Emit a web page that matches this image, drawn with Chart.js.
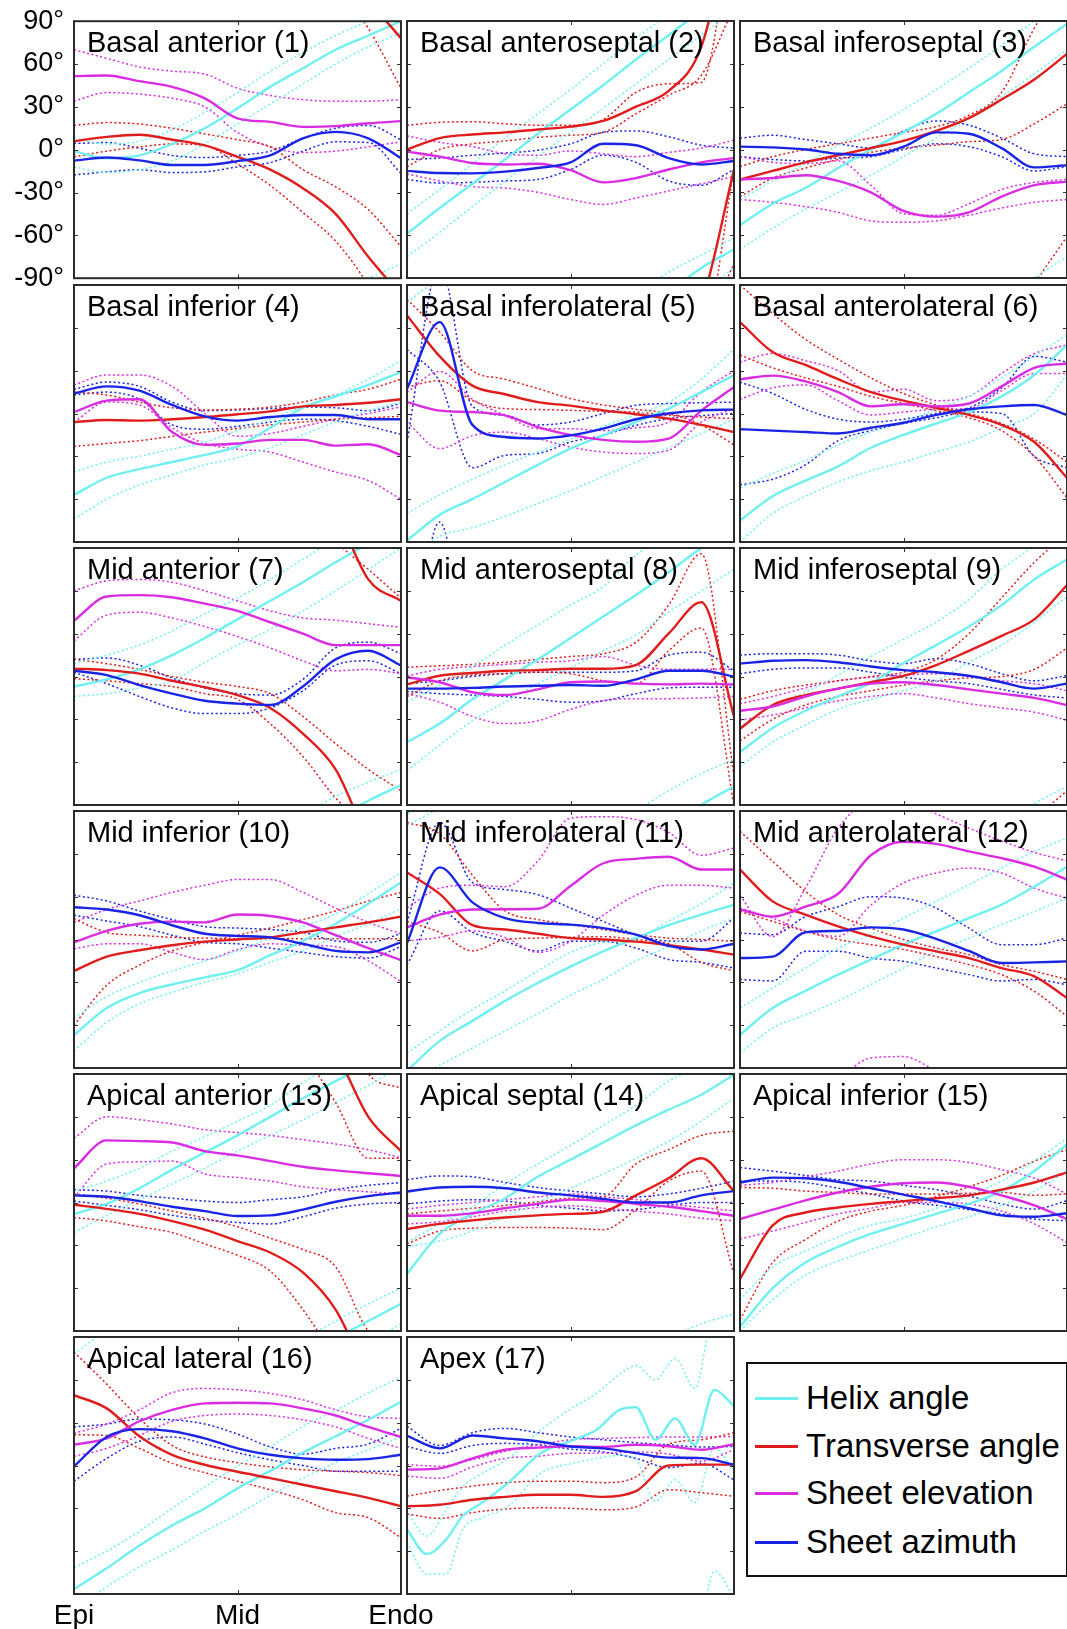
<!DOCTYPE html>
<html>
<head>
<meta charset="utf-8">
<title>Fibre and sheet angles by segment</title>
<script src="https://cdn.jsdelivr.net/npm/chart.js@4.4.1/dist/chart.umd.min.js"></script>
<style>
  html, body { margin: 0; padding: 0; background: #fff; overflow: hidden; }
  #page { position: relative; width: 1067px; height: 1629px; overflow: hidden; font-family: 'Liberation Sans', Arial, sans-serif; }
  #page canvas { position: absolute; }
  #legend { position: absolute; left: 746px; top: 1362px; width: 322px; height: 215px; box-sizing: border-box; border: 2px solid #111; background: #fff; }
  #legend .item { position: absolute; left: 0; height: 40px; line-height: 40px; font-size: 33px; color: #000; white-space: nowrap; }
  #legend .swatch { position: absolute; left: 7px; top: 19px; width: 43px; height: 3px; }
  #legend .label { position: absolute; left: 58px; top: 0; }
</style>
</head>
<body>
<div id="page"><div id="legend"></div></div>
<script>
// wall depth, epicardium (0) to endocardium (1)
const depth = [0, 0.1, 0.2, 0.3, 0.4, 0.5, 0.6, 0.7, 0.8, 0.9, 1];
// the apex helix curves are jagged, so they are read at more depths
const apexHelixDepth = [0, 0.06, 0.12, 0.17, 0.23, 0.31, 0.41, 0.51, 0.58, 0.65, 0.7, 0.76, 0.82, 0.88, 0.94, 1];
const depthTicks = [0, 0.5, 1];
const depthTickLabels = ['Epi', 'Mid', 'Endo'];
const angleTicks = [-90, -60, -30, 0, 30, 60, 90];

const segmentNames = [
  'Basal anterior (1)', 'Basal anteroseptal (2)', 'Basal inferoseptal (3)',
  'Basal inferior (4)', 'Basal inferolateral (5)', 'Basal anterolateral (6)',
  'Mid anterior (7)', 'Mid anteroseptal (8)', 'Mid inferoseptal (9)',
  'Mid inferior (10)', 'Mid inferolateral (11)', 'Mid anterolateral (12)',
  'Apical anterior (13)', 'Apical septal (14)', 'Apical inferior (15)',
  'Apical lateral (16)', 'Apex (17)'
];
const seriesNames = ['Helix angle', 'Transverse angle', 'Sheet elevation', 'Sheet azimuth'];

// one row per segment, degrees (values past ±90 wrap round, as angles are axial)
const helix = [
  [-1, -6, -4, 4, 15, 29, 44, 57, 70, 80, 90],
  [-59, -41, -24, -7, 11, 28, 45, 63, 80, 97, 110],
  [-53, -38, -27, -13, 0, 12, 25, 40, 55, 72, 88],
  [-57, -45, -39, -34, -29, -23, -10, 4, 12, 20, 29],
  [-89, -71, -60, -48, -36, -24.6, -15.3, -6, 3.4, 15, 26.7],
  [-75, -58, -47, -37, -24, -15, -7, 1, 12, 27, 48],
  [-7, -2, 5, 15, 27, 40, 53, 66, 80, 93, 104],
  [-46, -33, -16, -2, 12, 27, 42, 57, 73, 90, 103],
  [-53, -36, -24, -14, -4.5, 9.5, 22, 35, 50, 68, 82],
  [-67, -48, -37.5, -31.5, -26.5, -21.5, -11, -1, 11, 25, 40],
  [-92, -71, -57, -43, -30.5, -19, -8.3, 1, 10, 17.4, 24.4],
  [-66.7, -48, -36, -24.6, -14, -3.6, 5.7, 15, 24.4, 37, 51],
  [-8, -1, 10, 23, 35, 47, 60, 73, 85, 97, 109],
  [-50, -22, -8, 3, 18, 30, 42, 54, 65, 75.5, 89.5],
  [-87, -60, -42, -31, -22, -15, -8, -1, 8, 22, 40.7],
  [-86.5, -72, -56, -42, -30, -16, -3.8, 9, 20.5, 32, 44.7],
  [-44.7, -62, -51.7, -35.4, -26, -12, 8.7, 18, 25, 39, 40.8, 18, 33, 14.5, 53, 41.7]
];
const helixHi = [
  [8, 4, 6, 14, 26, 40, 55, 68, 80, 90, 100],
  [-45, -28, -10, 8, 25, 42, 60, 78, 94, 106, 118],
  [-35, -22, -10, 3, 15, 28, 42, 57, 73, 90, 105],
  [-41, -34, -30, -25, -20, -12, -4, 5, 13, 24, 37],
  [-70, -57, -46, -36, -27, -18, -9, -1, 8, 24, 45],
  [-52, -42, -33, -22, -13, -6, 3, 12, 25, 40, 55],
  [9, 15, 22, 32, 44, 55, 68, 82, 96, 106, 115],
  [-18, -6, 7, 22, 36, 50, 63, 85, 100, 112, 122],
  [-35, -20, -11, 1, 14, 26, 38, 54, 75, 91, 103],
  [-55, -40, -30, -22, -15, -8, 1, 9, 18, 32, 47],
  [-79.5, -64, -49, -36, -22, -9, -2, 0.5, 13, 25, 39.5],
  [-48, -34, -20, -6, 3.4, 15, 26.7, 38.4, 50, 61.7, 71],
  [8, 15, 24, 36, 46, 57, 68, 84, 97, 109, 120],
  [-28, -15, -3, 13, 27, 40, 54, 68, 85, 95, 102],
  [-68, -45, -34, -24, -16, -11, -4, 5, 15, 29, 45],
  [-71.5, -60, -46, -30, -15, -0.5, 13, 27.5, 38.5, 51, 62],
  [-32, -49.4, -31, -15, -5.6, 5, 25, 41, 50.5, 64, 70, 60, 75, 54, 106, 88]
];
const helixLo = [
  [-12, -16, -14, -8, 4, 18, 32, 46, 60, 72, 82],
  [-75, -58, -40, -22, -5, 12, 29, 46, 63, 80, 97],
  [-70, -55, -42, -30, -18, -5, 8, 22, 37, 53, 70],
  [-74, -60, -50, -43, -36, -31, -24, -15, -6, 2, 8],
  [-102, -86, -80, -72, -63, -54, -44, -34, -24, -14, -4],
  [-90, -70, -58, -48, -40, -34, -27, -20, -10, 0, 27],
  [-14, -12, -8, -3, 10, 22, 33, 46, 60, 75, 90],
  [-66, -48, -31, -18, -5, 6, 18, 29, 45, 60, 75],
  [-63, -46, -34, -23, -16, -10, -3, 10, 22, 38, 56],
  [-78, -58, -45, -37, -30, -24, -16, -8, 2, 11, 21.5],
  [-100, -88, -76, -64, -52, -39, -28, -15, -5, 6, 15],
  [-79.5, -62, -52.7, -43, -31.6, -20, -8.3, 1, 10.4, 19.7, 29],
  [-21, -9, 2, 13, 24, 36, 47, 58, 70, 82, 95],
  [-31, -27, -20, -10, 0, 10, 20, 31, 43, 57, 73],
  [-90, -68, -51, -41, -33, -25, -17, -10, -2, 8, 22],
  [-102, -85, -71, -59, -46, -34, -21, -9, 2, 11, 20],
  [-54, -76, -76, -44.7, -36.6, -28.5, -5.2, 1.7, 5, 7, 4, -25, -10, -26, 12, -3]
];

const transverse = [
  [6, 9, 10.5, 7, 3, -5, -14, -27, -45, -75, -102],
  [0, 8, 10.5, 12, 14, 16, 20, 30, 41, 72, 166],
  [-21, -15, -9, -4, 1, 6, 13, 22, 35, 49, 67],
  [-6, -4.5, -5, -4, -2.5, -0.5, 1.5, 5, 6, 7.5, 10],
  [68.7, 40, 19.5, 13.5, 8, 5.5, 2.2, -0.5, -3.6, -8, -13],
  [64, 43, 34, 24, 15, 9, 4, -1, -8, -20, -45],
  [5.5, 4.5, 2, -3, -7.5, -13, -22, -40, -65, -112, -127],
  [-5.6, 0.5, 2.5, 4, 4.5, 5.4, 5.4, 8, 30, 52, -28],
  [-36.5, -20, -13, -8.5, -4, 0.5, 8, 18, 28.5, 40, 64],
  [-22, -12, -7.5, -4, -1.5, 0, 1.5, 5, 8.5, 12, 16],
  [47, 32, 10, 7, 4, 1, 0, -1.5, -4, -7, -10.6],
  [49, 26.7, 17.4, 9.2, 2.2, -3.6, -8.3, -13, -20, -25.8, -41],
  [-1.6, -4.5, -8, -13, -19, -27, -35, -49, -75, -120, -144],
  [-18.6, -15, -12.5, -10.5, -9, -8, -6.5, 5, 17, 31, 8],
  [-53.5, -16, -7, -3.5, -1, 1, 3, 5, 9, 14, 21],
  [49.3, 40, 20.5, 7.5, 0.5, -4.4, -8.8, -13.5, -18, -22.7, -28.5],
  [-28.5, -27.5, -24, -22, -20.5, -20.5, -22, -18, 0, 0.6, 0.6]
];
const transverseHi = [
  [17, 19, 18, 15, 11, 7, 2, -14, -26, -42, -68],
  [17, 19, 19.5, 18, 17, 17, 21, 40, 46, 47, 165],
  [-12, -5, 0, 4, 8, 12, 16, 24, 40, 85, 119],
  [15, 13, 8, 4, 2.5, 3, 4.5, 8, 13, 17, 24],
  [80, 57, 30, 24, 17.5, 10.5, 6, 3, 0, -8, -22],
  [90, 70, 52, 38, 25, 14, 6, 0, -7, -18, -34],
  [12, 9, 5, 0, -4, -7, -12, -28, -47, -65, -80],
  [6.5, 7.5, 8.5, 10, 12, 14, 16, 24, 50, 86, -70],
  [-16, -10, -6, -3, 0, 3, 12, 30, 55, 80, 100],
  [14.5, 5, 3, 1.5, 1, 0.5, 0.5, 0.5, 0.5, 0.5, 0.5],
  [82, 74, 45, 20, 14, 10.4, 7, 3.4, 1, 0, -1.3],
  [75.8, 54.7, 33.7, 17.4, 8, 0, -6, -10.6, -17.6, -22.3, -28],
  [6, 3, -1, -6, -11, -17, -25, -33, -45, -90, -100],
  [-8, -6, -4, -2, 0.5, 3, 4, 27, 37, 47, 50],
  [10.5, 10, 8, 7, 6, 6, 6, 6.5, 7, 5, 6],
  [79.5, 57, 33, 14, 6, 2, -1, -3, -4, -5, -7],
  [-21.5, -17.5, -14.5, -12, -11, -11, -12, -8, 15, 18, 23]
];
const transverseLo = [
  [-5, -1, 2, 4, 3, -10, -25, -44, -64, -95, -137],
  [-12, 0, 4, 6, 8.5, 10, 12, 25, 38, 52, 100],
  [-33, -20, -13, -7, -2, 1, 3, 5.5, 7, 18, 32],
  [-23, -21, -19, -16, -13, -10.5, -8, -6, -4, -3, -2],
  [18.5, 23, 9, 3.4, 2.8, 2.2, 1.5, 1, -1.3, -2.5, -3.6],
  [41, 32, 25, 19, 12, 7, 2, -3, -12, -30, -59],
  [-1.5, -3, -5, -7, -12, -16, -33, -56, -85, -105, -125],
  [-14, -3, 1, 2, 3, 2, -3, -5, 18, 34, -90],
  [-45, -30, -20, -14, -10, -6, -3, -1, 0, 5, 20],
  [-60, -32, -18, -8, -2, 3, 8, 14, 20, 27, 33],
  [12.7, 5, -8, 0, 1, 1.5, 2, 0, -3, -16, -22],
  [19.7, 12.7, 5.7, 0, -3.6, -7, -12, -17.6, -24.6, -36.3, -53.8],
  [-10.5, -13, -17, -21, -29, -37, -48, -75, -110, -149, -149],
  [-29, -20, -18, -17.5, -17.5, -18, -19, -5, 15, 22, -50],
  [-82, -42, -26, -13, -6, -2, 4, 11, 19, 29, 37],
  [21.5, 21, 12, 1.5, -5, -11, -17, -24, -33, -36.5, -50.5],
  [-34, -37, -33, -30.5, -29.6, -30, -31, -29, -17, -19, -21.5]
];

const elevation = [
  [51.5, 52, 48, 44, 36, 22, 19.5, 16, 16.5, 18.5, 20],
  [-1.5, -5, -9.5, -10.5, -10, -14.5, -23, -20, -14, -9, -6],
  [-21, -20, -18, -22, -30, -43, -47, -44, -33, -25, -22.5],
  [1, 9, 10, -13, -22, -21, -18.5, -18.5, -22.5, -21.5, -29],
  [8, 2, 1, -1.3, -9.5, -15, -18.5, -19.8, -17.6, 2, 18.5],
  [24, 26.5, 22.5, 15, 5, 6.5, 5, 7, 19, 32, 35],
  [39, 56, 57, 55.5, 51, 46, 38, 30, 22, 22, 22],
  [-0.5, -4, -11, -13, -9, -4, -3.5, -5, -5.5, -5, -5.6],
  [-24, -21, -14, -8.5, -5, -4, -6, -9, -12, -15, -20],
  [-2, 6, 11, 12.5, 12, 17.5, 16.5, 12, 3, -6, -14.5],
  [8.5, 17.4, 21, 21.2, 21.5, 37.5, 53.4, 56.5, 58, 49, 49],
  [21, 16, 23, 32, 59, 68.5, 67, 61.7, 57, 51, 42],
  [24, 43.5, 43, 42, 36, 33, 29, 25, 22.5, 20.5, 18.6],
  [-9.3, -9.3, -7.5, -4, -1, 2, 1, -1, -3, -6, -9.3],
  [-11.6, -5, 1.5, 7, 11, 13.5, 14, 11, 5, -2, -11.6],
  [14.5, 19, 31, 39, 43.5, 44, 43.5, 40, 35, 27, 20],
  [-2.9, -2, 5, 11, 12.5, 13.5, 13, 14.5, 13.5, 11, 15]
];
const elevationHi = [
  [70, 64, 58, 55, 53, 43, 38, 35, 34, 34, 35],
  [9.5, 5, 2, -3, -4, -1, -3, -5, -2, 1, 6.5],
  [-5, -9, -10, -8, -25, -45, -46, -38, -28, -23, -21],
  [20, 27, 27, 19, 0, -16, -14, -9, -4, 0, 4.7],
  [15, 29.5, 10, -1.3, -10.6, -10.6, -12, -10, -6, 15, 30],
  [36, 42, 37, 30, 15, 17, 9, 12, 28, 42, 48],
  [60, 67, 68, 66, 60, 53, 46, 41, 39.5, 37, 34.5],
  [0.5, 5, 7, 8.5, 10, 11, 14, 8, 5, 5, 5],
  [-19, -14, -8, -3, -0.5, 1, 2, 0, -3, -5, -10],
  [12, 21, 27, 33, 38, 42, 42, 33, 22, 12, 4],
  [22, 36, 38, 37, 55, 85, 86, 84, 75, 59, 64],
  [31, 2, 36, 78, 97, 98, 88, 78, 69, 61, 55],
  [45, 60, 58, 55, 51, 49, 47, 44, 41, 37, 31.4],
  [-4.6, -2, 0, 2, 4, 6, 4, 2, -1, -3.5, -5.8],
  [12, 14, 18, 22, 27, 30, 30, 28, 23, 17, 6],
  [22.6, 29, 39, 51, 54, 53, 50.5, 46, 39, 34, 33],
  [0.6, -0.5, 4, 10, 14.5, 18, 19, 19.5, 20, 20, 20.3]
];
const elevationLo = [
  [34, 40, 39, 36, 30, 12, 2, -2, -1, 2, 5.5],
  [-17, -22, -26, -27, -30, -35, -38.5, -34, -29, -24, -19],
  [-35, -37, -40, -44, -50, -51, -50, -46, -41, -37, -35],
  [-6, 8, 6, -10, -21, -25, -27, -34, -41, -47, -60],
  [-6, -24.6, -15.5, -13, -17.6, -23.5, -27, -28, -25.8, -6, 3.4],
  [10, 18, 20, 9, -1, 1, 3, 3.5, 16, 28, 28],
  [25, 43, 45, 41, 35, 28, 20, 11, 4, 5, 2],
  [-12, -18, -28, -33, -31, -23, -17, -15.5, -15.5, -15, -14],
  [-30.6, -27, -22, -17, -14, -12, -15, -19, -22, -25, -30.6],
  [-6.5, -3, -3, -9, -14, -7, -3, -4, -5, -15, -29.6],
  [-1, 1.5, 6, 1.5, -9, -1.3, 17, 31, 38, 38, 36],
  [22, 15, 6, 2.2, 24, 39.6, 46.6, 50, 46.6, 36, 29],
  [3.5, 27, 28.5, 29, 20, 17.5, 15, 11, 9, 7.5, 6],
  [-15, -13.5, -10, -6, -3.5, -2.3, -4, -6, -8, -11, -12.8],
  [-25.6, -20, -14, -8, -4, 0, 0, -1, -6, -15, -28],
  [6.4, 12, 21, 31, 35, 36, 35, 32, 27, 19, 12],
  [-7.5, -9, -1, 5, 6.5, 8.5, 8.7, 9.5, 8, 3, 11]
];

const azimuth = [
  [-7.7, -5.5, -7.5, -10.7, -10.7, -8, -4, 8, 12.5, 8, -6],
  [-15, -16.5, -16.7, -15.5, -13, -9, 4, 3, -6, -10.5, -8],
  [2, 1.5, 0, -3, -4, 2, 12, 11, 1, -12.5, -11],
  [14, 19, 16, 6, -2, -5, -2.5, -1, -1, -4, -4],
  [17.4, 64, -8, -16.5, -17.5, -15.3, -10.6, -4, 0, 2.2, 2.7],
  [-11, -12, -13, -14, -10, -6.5, -1, 3, 5, 6, -1],
  [4, 1, -6, -12, -17, -19, -20, -7, 12, 18, 7.7],
  [-8.5, -8.5, -8, -7, -6.5, -6, -6.5, -2, 4, 4, 0],
  [9, 11, 11.5, 10, 7, 4.5, 3, 0.5, -4, -8.5, -5],
  [22.6, 21, 17, 10, 4, 2.5, 1.5, -3, -8, -9, -2],
  [-2.5, 50.5, 26, 15, 11.6, 10.4, 8, 3.4, -4.5, -7, -3],
  [-13, -12, 5, 6, 8.5, 7, 0.5, -8, -16.5, -16, -15.3],
  [5, 4, 1, -3, -6, -9.5, -9, -5, 0.5, 4.5, 7],
  [7.7, 10.5, 11, 10, 7, 5, 2.5, 0, 0, 5, 8],
  [14, 17.4, 17, 14.5, 10, 5.5, 1, -4, -9, -10, -7.5],
  [-0.6, 20, 25.5, 24, 19, 12, 7.5, 5, 4, 4.5, 7.5],
  [20.8, 12, 21, 19, 17, 13.3, 12, 8.7, 5.5, 5.2, 0.6]
];
const azimuthHi = [
  [4.4, 5, 1, -4, -5.5, -4, -1, 8, 15, 17, 7],
  [-7, -6, -4, -2.5, -0.5, 4, 12, 13, 9, 3, 1],
  [8, 10, 7, 4, 1, 13, 20, 17, 8, -3, -5],
  [17, 22, 19, 8, 2, 2.5, 3.5, 4.5, 4, 2, 7],
  [-20, 104, 5, -1.3, -8, -6, 0, 5.7, 7, 7.5, 8],
  [22, 14, 3, -4, -6, -4, 0, 4, 18, 40, 36],
  [12, 13, 8, -1, -8, -12, -13, -2, 20, 24, 16],
  [-5, -3, 0, 2, 3, 3, 3, 4, 15, 17, 4],
  [15, 16, 16, 15, 11, 9, 12.5, 9, 2, -3, 0.7],
  [31, 27, 20, 14, 9, 8, 7, 5, -1, -2, 4],
  [12, 82, 40, 35, 31.4, 22, 12.7, 3.4, -1, -1.3, 15],
  [4.5, 3.4, 16, 23, 30, 29, 22, 8, -3.6, -3.6, 1],
  [9, 8, 5, 3, 1, 0, 2, 4, 9, 12, 14],
  [16, 18.6, 18, 14, 10.5, 8, 6, 4, 6, 10, 15],
  [24.4, 22, 19, 16, 15, 12, 9, 4.5, -1, -4.6, 1.2],
  [27, 29, 32.5, 32, 29, 22, 13, 8, 12, 15, 26],
  [27.3, 14, 23, 26, 23, 20, 18, 16, 14.5, 13, 13.3]
];
const azimuthLo = [
  [-17.7, -15.5, -14, -16, -15.5, -12, -9, -1, 5.5, 5, -16.5],
  [-21, -23.5, -23, -22, -21, -14, -4, -9, -22, -25, -14],
  [-5, -7, -8, -6, -5, 0, 4, 2, -5, -15, -12],
  [13, 15, 10, -8, -11, -9, -6, -4, -5, -9, -14.6],
  [45, 22, -38, -29.3, -28, -20, -15.3, -8.3, -3.6, -1.5, 0],
  [-50, -46, -36, -19, -12, -7, -3, 1, 0, -30, -38],
  [3, -5, -14, -22, -26, -26, -22, -10, 8, 11, 2],
  [-10.5, -12, -13, -14, -16, -18, -17, -12, -8, -7.5, -7.5],
  [2, 5, 6, 6, 3, -0.5, -3, -5, -9, -13, -15],
  [17, 13, 9, 3, -2, -3, -6, -9, -12, -13, -5],
  [-17.6, 20, 5, -1.3, -8, -1.3, -1.3, -6, -14, -16, -20],
  [-28, -29, -8.3, -8.3, -13, -15.3, -20, -24.6, -29, -28, -31.7],
  [1, -2, -5, -9, -12, -14, -15, -10, -4, -1, 0],
  [-1, 1, 2, 1, -2, -4, -5.8, -5, -2, 0, 0],
  [15, 15, 14, 10, 6, 1, -2, -5, -8, -11.6, -12.8],
  [-11, 5, 17, 20, 15, 9, 4, 0, -4, -4, -4],
  [13.3, 8.5, 14, 15.5, 14.5, 11.5, 9.5, 5, -1.5, 1.5, -10]
];

const colors = ['rgb(112,240,240)', 'rgb(224,28,28)', 'rgb(218,44,226)', 'rgb(26,36,228)'];
const groups = [
  { mean: helix, hi: helixHi, lo: helixLo },
  { mean: transverse, hi: transverseHi, lo: transverseLo },
  { mean: elevation, hi: elevationHi, lo: elevationLo },
  { mean: azimuth, hi: azimuthHi, lo: azimuthLo }
];

// panel grid (pixels)
const COLS = [74, 407, 740];
const ROWS = [21, 285, 548, 811, 1074, 1337];
const PW = 327, PH = 257;

Chart.defaults.font.family = "'Liberation Sans', Arial, sans-serif";
Chart.defaults.color = '#000';

const framePlugin = {
  id: 'frame',
  afterDatasetsDraw(chart, args, opts) {
    const { ctx, chartArea: a, scales } = chart;
    ctx.save();
    // small inward tick marks
    ctx.strokeStyle = '#333';
    ctx.lineWidth = 1;
    ctx.beginPath();
    angleTicks.slice(1, -1).forEach(v => {
      const y = Math.round(scales.y.getPixelForValue(v)) + 0.5;
      ctx.moveTo(a.left, y); ctx.lineTo(a.left + 4, y);
      ctx.moveTo(a.right, y); ctx.lineTo(a.right - 4, y);
    });
    const xm = Math.round(scales.x.getPixelForValue(depthTicks[1])) + 0.5;
    ctx.moveTo(xm, a.top); ctx.lineTo(xm, a.top + 4);
    ctx.moveTo(xm, a.bottom); ctx.lineTo(xm, a.bottom - 4);
    ctx.stroke();
    // box
    ctx.lineWidth = 2;
    ctx.strokeStyle = '#2b2b2b';
    ctx.strokeRect(a.left, a.top, a.right - a.left, a.bottom - a.top);
    // segment title
    ctx.fillStyle = '#000';
    ctx.font = "29px 'Liberation Sans', Arial, sans-serif";
    ctx.textBaseline = 'alphabetic';
    ctx.fillText(opts.title, a.left + 13, a.top + 31);
    ctx.restore();
  }
};

// a curve that leaves the ±90° window comes back in from the other edge
function pushWithWrap(sets, pts, style) {
  sets.push(Object.assign({ data: pts }, style));
  const ys = pts.map(p => p.y);
  if (Math.max(...ys) > 90) sets.push(Object.assign({ data: pts.map(p => ({ x: p.x, y: p.y - 180 })) }, style));
  if (Math.min(...ys) < -90) sets.push(Object.assign({ data: pts.map(p => ({ x: p.x, y: p.y + 180 })) }, style));
}

function buildDatasets(k) {
  const sets = [];
  const toPoints = (row, s) => {
    const xs = (s === 0 && k === 16) ? apexHelixDepth : depth;
    return xs.map((x, i) => ({ x, y: row[i] }));
  };
  groups.forEach((g, s) => {
    pushWithWrap(sets, toPoints(g.mean[k], s), { borderColor: colors[s], borderWidth: 2.4, order: 4 - s });
  });
  groups.forEach((g, s) => {
    [g.hi, g.lo].forEach(arr => {
      pushWithWrap(sets, toPoints(arr[k], s), { borderColor: colors[s], borderWidth: 1.5, borderDash: [2, 2.5], order: 10 + s });
    });
  });
  return sets;
}

const page = document.getElementById('page');

segmentNames.forEach((name, k) => {
  const col = k % 3, row = Math.floor(k / 3);
  const left = COLS[col], top = ROWS[row];
  const showY = k === 0, showX = k === 15;
  const pad = { left: 4, right: 4, top: 4, bottom: 4 };
  let yAxisW = 0, xAxisH = 0;
  if (showY) { pad.top = 16; pad.bottom = 16; yAxisW = 70; }
  if (showX) { pad.left = 44; pad.right = 44; xAxisH = 36; }
  const w = pad.left + yAxisW + PW + pad.right;
  const h = pad.top + PH + xAxisH + pad.bottom;

  const canvas = document.createElement('canvas');
  canvas.width = w; canvas.height = h;
  canvas.style.width = w + 'px'; canvas.style.height = h + 'px';
  page.appendChild(canvas);

  const chart = new Chart(canvas, {
    type: 'line',
    data: { datasets: buildDatasets(k) },
    options: {
      responsive: false,
      maintainAspectRatio: false,
      animation: false,
      events: [],
      layout: { padding: pad },
      elements: {
        point: { radius: 0 },
        line: { cubicInterpolationMode: 'monotone', fill: false, borderCapStyle: 'butt', borderJoinStyle: 'round' }
      },
      plugins: {
        legend: { display: false },
        tooltip: { enabled: false },
        frame: { title: name }
      },
      scales: {
        x: {
          type: 'linear', min: 0, max: 1, display: showX,
          afterBuildTicks: s => { s.ticks = depthTicks.map(v => ({ value: v })); },
          afterFit: s => { s.height = xAxisH; },
          grid: { display: false, drawTicks: false },
          border: { display: false },
          ticks: {
            autoSkip: false, maxRotation: 0, padding: 5, font: { size: 28 },
            callback: (v, i) => depthTickLabels[i]
          }
        },
        y: {
          type: 'linear', min: -90, max: 90, display: showY,
          afterBuildTicks: s => { s.ticks = angleTicks.map(v => ({ value: v })); },
          afterFit: s => { s.width = yAxisW; },
          grid: { display: false, drawTicks: false },
          border: { display: false },
          ticks: { autoSkip: false, padding: 10, font: { size: 27 }, callback: v => v + '°' }
        }
      }
    },
    plugins: [framePlugin]
  });

  // grow or shrink the canvas until the plot box is exactly PW x PH, then place it
  for (let pass = 0; pass < 3; pass++) {
    const a = chart.chartArea;
    const dw = PW - (a.right - a.left), dh = PH - (a.bottom - a.top);
    if (Math.abs(dw) < 0.05 && Math.abs(dh) < 0.05) break;
    chart.resize(chart.width + dw, chart.height + dh);
  }
  const a = chart.chartArea;
  canvas.style.left = (left - a.left) + 'px';
  canvas.style.top = (top - a.top) + 'px';
});

// legend box
const legend = document.getElementById('legend');
const rowCentres = [34, 82, 129, 178];
seriesNames.forEach((label, s) => {
  const item = document.createElement('div');
  item.className = 'item';
  item.style.top = (rowCentres[s] - 20) + 'px';
  item.innerHTML = '<span class="swatch" style="background:' + colors[s] + '"></span><span class="label">' + label + '</span>';
  legend.appendChild(item);
});
</script>
</body>
</html>
